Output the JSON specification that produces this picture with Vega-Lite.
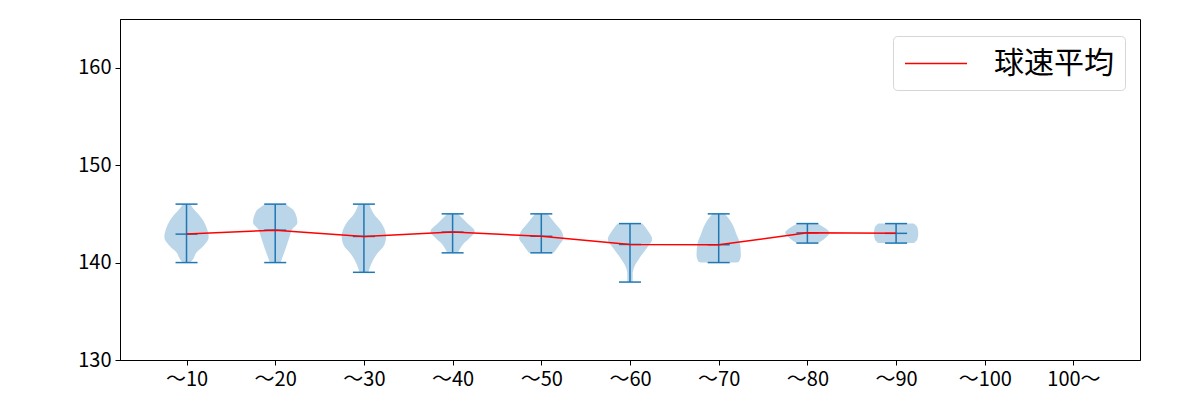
{
  "$schema": "https://vega.github.io/schema/vega-lite/v6.json",
  "width": 1020,
  "height": 341,
  "autosize": "none",
  "padding": {"left": 120, "top": 19, "right": 60, "bottom": 40},
  "background": "white",
  "datasets": {
    "violin": [
      {"idx": 1, "speed": 140.0, "w": 0.04}, {"idx": 1, "speed": 140.3, "w": 0.07}, {"idx": 1, "speed": 141.0, "w": 0.11}, {"idx": 1, "speed": 141.8, "w": 0.20}, {"idx": 1, "speed": 142.6, "w": 0.25}, {"idx": 1, "speed": 143.5, "w": 0.23}, {"idx": 1, "speed": 144.3, "w": 0.19}, {"idx": 1, "speed": 145.0, "w": 0.13}, {"idx": 1, "speed": 145.5, "w": 0.08}, {"idx": 1, "speed": 146.0, "w": 0.04},
      {"idx": 2, "speed": 140.0, "w": 0.06}, {"idx": 2, "speed": 140.5, "w": 0.08}, {"idx": 2, "speed": 141.5, "w": 0.12}, {"idx": 2, "speed": 142.6, "w": 0.16}, {"idx": 2, "speed": 143.4, "w": 0.19}, {"idx": 2, "speed": 144.1, "w": 0.25}, {"idx": 2, "speed": 145.2, "w": 0.22}, {"idx": 2, "speed": 146.0, "w": 0.11},
      {"idx": 3, "speed": 139.0, "w": 0.05}, {"idx": 3, "speed": 139.8, "w": 0.08}, {"idx": 3, "speed": 140.8, "w": 0.14}, {"idx": 3, "speed": 141.8, "w": 0.23}, {"idx": 3, "speed": 142.7, "w": 0.25}, {"idx": 3, "speed": 144.0, "w": 0.20}, {"idx": 3, "speed": 145.0, "w": 0.11}, {"idx": 3, "speed": 146.0, "w": 0.06},
      {"idx": 4, "speed": 141.0, "w": 0.06}, {"idx": 4, "speed": 141.9, "w": 0.12}, {"idx": 4, "speed": 142.6, "w": 0.20}, {"idx": 4, "speed": 143.2, "w": 0.25}, {"idx": 4, "speed": 144.1, "w": 0.16}, {"idx": 4, "speed": 145.0, "w": 0.06},
      {"idx": 5, "speed": 141.0, "w": 0.14}, {"idx": 5, "speed": 141.9, "w": 0.21}, {"idx": 5, "speed": 142.5, "w": 0.25}, {"idx": 5, "speed": 143.2, "w": 0.23}, {"idx": 5, "speed": 144.1, "w": 0.15}, {"idx": 5, "speed": 145.0, "w": 0.07},
      {"idx": 6, "speed": 138.0, "w": 0.03}, {"idx": 6, "speed": 138.8, "w": 0.03}, {"idx": 6, "speed": 139.6, "w": 0.05}, {"idx": 6, "speed": 140.5, "w": 0.11}, {"idx": 6, "speed": 141.5, "w": 0.19}, {"idx": 6, "speed": 142.4, "w": 0.25}, {"idx": 6, "speed": 143.3, "w": 0.20}, {"idx": 6, "speed": 144.0, "w": 0.14},
      {"idx": 7, "speed": 140.0, "w": 0.20}, {"idx": 7, "speed": 140.1, "w": 0.23}, {"idx": 7, "speed": 140.8, "w": 0.25}, {"idx": 7, "speed": 141.9, "w": 0.24}, {"idx": 7, "speed": 142.9, "w": 0.20}, {"idx": 7, "speed": 144.0, "w": 0.15}, {"idx": 7, "speed": 145.0, "w": 0.07},
      {"idx": 8, "speed": 142.0, "w": 0.12}, {"idx": 8, "speed": 142.5, "w": 0.20}, {"idx": 8, "speed": 143.05, "w": 0.25}, {"idx": 8, "speed": 143.6, "w": 0.19}, {"idx": 8, "speed": 144.0, "w": 0.11},
      {"idx": 9, "speed": 142.0, "w": 0.20}, {"idx": 9, "speed": 142.4, "w": 0.24}, {"idx": 9, "speed": 143.0, "w": 0.25}, {"idx": 9, "speed": 143.6, "w": 0.24}, {"idx": 9, "speed": 144.0, "w": 0.20}
    ],
    "stats": [
      {"idx": 1, "min": 140, "max": 146, "mean": 142.92},
      {"idx": 2, "min": 140, "max": 146, "mean": 143.33},
      {"idx": 3, "min": 139, "max": 146, "mean": 142.68},
      {"idx": 4, "min": 141, "max": 145, "mean": 143.13},
      {"idx": 5, "min": 141, "max": 145, "mean": 142.7},
      {"idx": 6, "min": 138, "max": 144, "mean": 141.86},
      {"idx": 7, "min": 140, "max": 145, "mean": 141.83},
      {"idx": 8, "min": 142, "max": 144, "mean": 143.05},
      {"idx": 9, "min": 142, "max": 144, "mean": 143.0}
    ]
  },
  "layer": [
    {
      "data": {"name": "violin"},
      "transform": [
        {"calculate": "datum.idx - datum.w", "as": "lo"},
        {"calculate": "datum.idx + datum.w", "as": "hi"}
      ],
      "mark": {"type": "area", "orient": "horizontal", "interpolate": "monotone", "fill": "#1f77b4", "fillOpacity": 0.3, "strokeWidth": 0},
      "encoding": {
        "y": {"field": "speed", "type": "quantitative", "scale": {"domain": [130, 165], "nice": false, "zero": false}, "axis": {"values": [130, 140, 150, 160], "title": null}},
        "x": {"field": "lo", "type": "quantitative", "scale": {"domain": [0.25, 11.75], "nice": false, "zero": false}, "axis": {"values": [1, 2, 3, 4, 5, 6, 7, 8, 9, 10, 11], "title": null, "labelExpr": "['〜10','〜20','〜30','〜40','〜50','〜60','〜70','〜80','〜90','〜100','100〜'][datum.value - 1]"}},
        "x2": {"field": "hi"},
        "detail": {"field": "idx", "type": "nominal"}
      }
    },
    {
      "data": {"name": "stats"},
      "mark": {"type": "rule", "color": "#1f77b4", "strokeWidth": 1.5},
      "encoding": {
        "x": {"field": "idx", "type": "quantitative", "title": null},
        "y": {"field": "min", "type": "quantitative", "title": null},
        "y2": {"field": "max"}
      }
    },
    {
      "data": {"name": "stats"},
      "mark": {"type": "tick", "orient": "horizontal", "color": "#1f77b4", "size": 22, "thickness": 1.5, "opacity": 1},
      "encoding": {
        "x": {"field": "idx", "type": "quantitative", "title": null},
        "y": {"field": "min", "type": "quantitative", "title": null}
      }
    },
    {
      "data": {"name": "stats"},
      "mark": {"type": "tick", "orient": "horizontal", "color": "#1f77b4", "size": 22, "thickness": 1.5, "opacity": 1},
      "encoding": {
        "x": {"field": "idx", "type": "quantitative", "title": null},
        "y": {"field": "max", "type": "quantitative", "title": null}
      }
    },
    {
      "data": {"name": "stats"},
      "mark": {"type": "tick", "orient": "horizontal", "color": "#1f77b4", "size": 22, "thickness": 1.5, "opacity": 1},
      "encoding": {
        "x": {"field": "idx", "type": "quantitative", "title": null},
        "y": {"field": "mean", "type": "quantitative", "title": null}
      }
    },
    {
      "data": {"name": "stats"},
      "mark": {"type": "line", "strokeWidth": 1.5},
      "encoding": {
        "x": {"field": "idx", "type": "quantitative", "title": null},
        "y": {"field": "mean", "type": "quantitative", "title": null},
        "color": {
          "datum": "球速平均",
          "scale": {"range": ["#ff0000"]},
          "legend": {
            "title": null,
            "orient": "none",
            "legendX": 773,
            "legendY": 17,
            "symbolType": "M-1,0H3",
            "symbolSize": 961,
            "symbolStrokeWidth": 1.5,
            "labelFontSize": 30,
            "labelFont": "Noto Sans CJK JP",
            "labelColor": "black",
            "labelOffset": 57,
            "padding": 11,
            "fillColor": "white",
            "strokeColor": "#d6d6d6",
            "cornerRadius": 4
          }
        }
      }
    }
  ],
  "config": {
    "view": {"stroke": "black", "strokeWidth": 1},
    "axis": {
      "grid": false,
      "domainColor": "black",
      "tickColor": "black",
      "labelColor": "black",
      "labelFont": "Noto Sans CJK JP",
      "labelFontSize": 20,
      "tickSize": 5,
      "labelPadding": 4
    }
  }
}
